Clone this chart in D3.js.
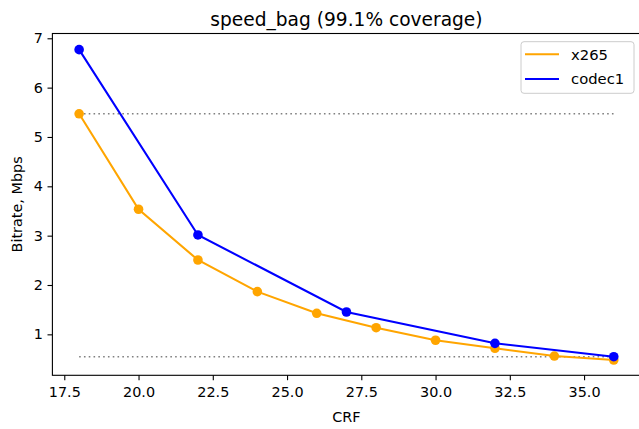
<!DOCTYPE html>
<html>
<head>
<meta charset='utf-8'>
<title>speed_bag</title>
<script src='https://cdn.jsdelivr.net/npm/d3@7'></script>
<style>
  body { margin: 0; background: #fff; }
  text { font-family: 'DejaVu Sans', sans-serif; fill: #000; }
</style>
</head>
<body>
<svg width='639' height='429'></svg>
<script>
// data
const x265Crf = [18, 20, 22, 24, 26, 28, 30, 32, 34, 36]
const x265Rate = [5.47, 3.535, 2.507, 1.865, 1.427, 1.135, 0.88, 0.717, 0.56, 0.48]
const codecCrf = [18, 22, 27, 32, 36]
const codecRate = [6.77, 3.014, 1.453, 0.818, 0.547]
const xTicks = [17.5, 20, 22.5, 25, 27.5, 30, 32.5, 35]
const yTicks = [1, 2, 3, 4, 5, 6, 7]
const refLines = [5.47, 0.547]

const svg = d3.select('svg')
const axL = 52.4, axR = 640.5, axT = 33.5, axB = 375.3
const fs = '14.4px'

// matplotlib style 5% margins
const xs = d3.scaleLinear().domain([17.1, 36.9]).range([axL, axR])
const ys = d3.scaleLinear().domain([0.17, 7.097]).range([axB, axT])

const x265 = x265Crf.map((c, i) => [c, x265Rate[i]])
const codec = codecCrf.map((c, i) => [c, codecRate[i]])

// dotted reference lines from first to last crf
const g = svg.append('g')
refLines.forEach(v => {
    g.append('line')
        .attr('x1', xs(18)).attr('x2', xs(36))
        .attr('y1', ys(v)).attr('y2', ys(v))
        .attr('stroke', 'gray').attr('stroke-width', 1.6)
        .attr('stroke-dasharray', '1.6,3.2')
})

const line = d3.line().x(d => xs(d[0])).y(d => ys(d[1]))
const series = [{ name: 'x265', data: x265, color: 'orange' }, { name: 'codec1', data: codec, color: 'blue' }]
series.forEach(s => {
    g.append('path')
        .attr('d', line(s.data))
        .attr('fill', 'none')
        .attr('stroke', s.color)
        .attr('stroke-width', 2.08)
    g.selectAll(null).data(s.data).enter().append('circle')
        .attr('cx', d => xs(d[0]))
        .attr('cy', d => ys(d[1]))
        .attr('r', 4.8)
        .attr('fill', s.color)
})

// axes
const xAxis = svg.append('g').attr('transform', `translate(0,${axB})`)
    .call(d3.axisBottom(xs).tickValues(xTicks).tickFormat(d3.format('.1f')).tickSize(4.9).tickPadding(7))
const yAxis = svg.append('g').attr('transform', `translate(${axL},0)`)
    .call(d3.axisLeft(ys).tickValues(yTicks).tickFormat(d3.format('d')).tickSize(4.9).tickPadding(4.5))
;[xAxis, yAxis].forEach(a => {
    a.select('.domain').remove()
    a.selectAll('line').attr('stroke', '#000').attr('stroke-width', 1.1)
    a.selectAll('text').attr('font-size', fs).attr('font-family', 'DejaVu Sans').attr('fill', '#000')
})

// spines
svg.append('rect')
    .attr('x', axL).attr('y', axT)
    .attr('width', axR - axL).attr('height', axB - axT)
    .attr('fill', 'none').attr('stroke', '#000').attr('stroke-width', 1.1)

// labels
svg.append('text')
    .attr('x', (axL + axR) / 2).attr('y', 25.5)
    .attr('text-anchor', 'middle').attr('font-size', '18.6px')
    .text('speed_bag (99.1% coverage)')
svg.append('text')
    .attr('x', (axL + axR) / 2).attr('y', 421.5)
    .attr('text-anchor', 'middle').attr('font-size', fs)
    .text('CRF')
svg.append('text')
    .attr('transform', `translate(21.5,${(axT + axB) / 2}) rotate(-90)`)
    .attr('text-anchor', 'middle').attr('font-size', fs)
    .text('Bitrate, Mbps')

// legend
const lg = svg.append('g')
lg.append('rect')
    .attr('x', 521).attr('y', 41.7).attr('width', 113).attr('height', 51.6)
    .attr('rx', 3).attr('fill', '#fff').attr('fill-opacity', 0.8)
    .attr('stroke', '#ccc').attr('stroke-width', 1)
series.forEach((s, i) => {
    const yy = 54.3 + i * 24.7
    lg.append('line')
        .attr('x1', 525).attr('x2', 559).attr('y1', yy).attr('y2', yy)
        .attr('stroke', s.color).attr('stroke-width', 2.08)
    lg.append('text')
        .attr('x', 571).attr('y', yy + 5.2)
        .attr('font-size', '14.8px')
        .text(s.name)
})
</script>
</body>
</html>
